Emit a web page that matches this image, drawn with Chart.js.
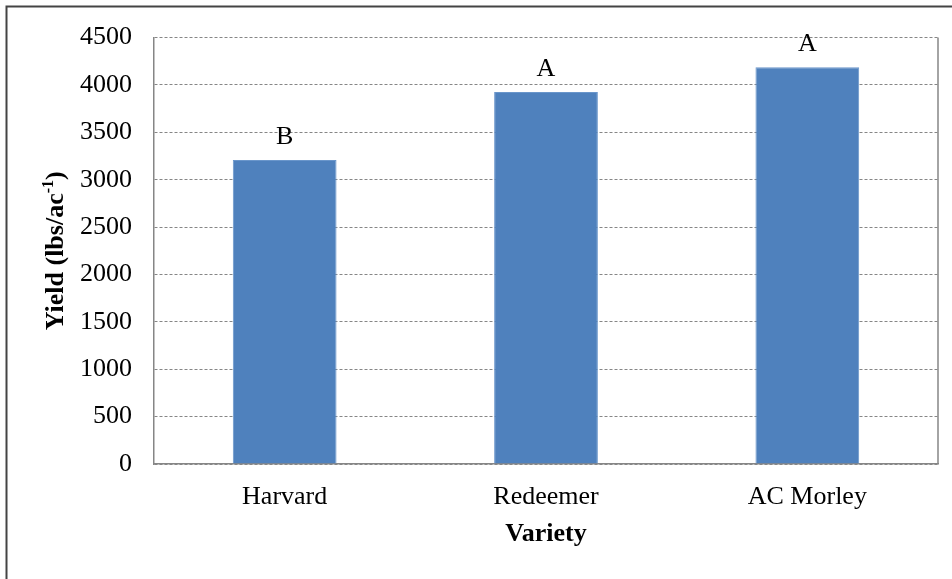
<!DOCTYPE html>
<html>
<head>
<meta charset="utf-8">
<script src="https://cdn.jsdelivr.net/npm/chart.js@4"></script>
<style>
    html, body { margin: 0; padding: 0; background: #ffffff; }
    #wrap { width: 952px; height: 579px; position: relative; }
</style>
</head>
<body>
<div id="wrap"><canvas id="chart"></canvas></div>
<script>
(function () {
    "use strict";

    const varieties = ["Harvard", "Redeemer", "AC Morley"];
    const yieldValues = [3207, 3926, 4186];
    const groupLetters = ["B", "A", "A"];
    const yTicks = [0, 500, 1000, 1500, 2000, 2500, 3000, 3500, 4000, 4500];

    const fontFamily = "'Liberation Serif', 'Times New Roman', serif";
    const gridColor = "#868686";

    // Outer frame, right edge of the plot, titles and letters
    const decorations = {
        id: "decorations",
        beforeDraw(chart) {
            const ctx = chart.ctx;
            ctx.save();
            ctx.fillStyle = "#ffffff";
            ctx.fillRect(0, 0, chart.width, chart.height);
            ctx.strokeStyle = "#444444";
            ctx.lineWidth = 2;
            ctx.beginPath();
            ctx.moveTo(6.5, chart.height);
            ctx.lineTo(6.5, 6.5);
            ctx.lineTo(chart.width, 6.5);
            ctx.stroke();
            ctx.restore();
        },
        afterDraw(chart) {
            const ctx = chart.ctx;
            const area = chart.chartArea;
            const x = chart.scales.x;
            const y = chart.scales.y;
            ctx.save();

            ctx.strokeStyle = gridColor;
            ctx.lineWidth = 1.5;
            ctx.beginPath();
            ctx.moveTo(area.right, area.top);
            ctx.lineTo(area.right, area.bottom);
            ctx.stroke();

            ctx.fillStyle = "#000000";
            ctx.textAlign = "center";
            ctx.textBaseline = "alphabetic";
            ctx.font = "26px " + fontFamily;
            groupLetters.forEach((letter, i) => {
                ctx.fillText(letter, x.getPixelForValue(i), y.getPixelForValue(yieldValues[i]) - 16);
            });

            // x title
            ctx.font = "bold 26px " + fontFamily;
            ctx.fillText("Variety", (area.left + area.right) / 2, 541);

            // y title with superscript
            const main = "Yield (lbs/ac";
            const sup = "-1";
            const tail = ")";
            ctx.translate(54, (area.top + area.bottom) / 2);
            ctx.rotate(-Math.PI / 2);
            ctx.font = "bold 26px " + fontFamily;
            const wMain = ctx.measureText(main).width;
            const wTail = ctx.measureText(tail).width;
            ctx.font = "bold 16px " + fontFamily;
            const wSup = ctx.measureText(sup).width;
            let pos = -(wMain + wSup + wTail) / 2;
            ctx.textAlign = "left";
            ctx.font = "bold 26px " + fontFamily;
            ctx.fillText(main, pos, 9);
            pos += wMain;
            ctx.font = "bold 16px " + fontFamily;
            ctx.fillText(sup, pos, -1);
            pos += wSup;
            ctx.font = "bold 26px " + fontFamily;
            ctx.fillText(tail, pos, 9);
            ctx.restore();
        },
    };

    new Chart(document.getElementById("chart"), {
        type: "bar",
        data: {
            labels: varieties,
            datasets: [
                {
                    data: yieldValues,
                    backgroundColor: "#4f81bd",
                    borderColor: "#6a96cb",
                    borderWidth: 1,
                    categoryPercentage: 1,
                    barPercentage: 0.397,
                },
            ],
        },
        options: {
            responsive: true,
            maintainAspectRatio: false,
            animation: false,
            layout: {
                padding: { left: 0, top: 36, right: 14, bottom: 0 },
            },
            plugins: {
                legend: { display: false },
                tooltip: { enabled: false },
            },
            scales: {
                x: {
                    grid: { display: false, drawTicks: false },
                    border: { display: true, color: gridColor, width: 1.5 },
                    ticks: {
                        color: "#000000",
                        font: { family: fontFamily, size: 26 },
                        padding: 18,
                    },
                    afterFit(scale) {
                        scale.height = 115;
                    },
                },
                y: {
                    min: 0,
                    max: 4500,
                    afterBuildTicks(scale) {
                        scale.ticks = yTicks.map((v) => ({ value: v }));
                    },
                    grid: {
                        color: gridColor,
                        lineWidth: 1,
                        drawTicks: false,
                    },
                    border: { display: true, color: gridColor, width: 1.5, dash: [3, 2] },
                    ticks: {
                        color: "#000000",
                        font: { family: fontFamily, size: 26 },
                        padding: 22,
                        callback: (value) => String(value),
                    },
                    afterFit(scale) {
                        scale.width = 154;
                    },
                },
            },
        },
        plugins: [decorations],
    });
})();
</script>
</body>
</html>
